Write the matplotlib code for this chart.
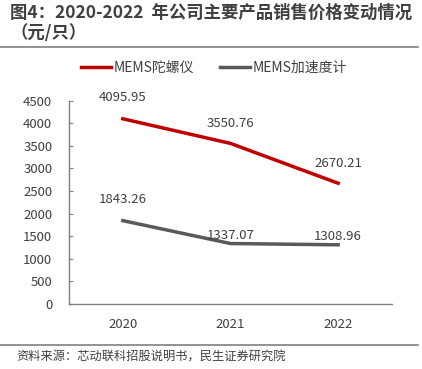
import matplotlib
matplotlib.use('Agg')
import matplotlib.pyplot as plt

plt.rcParams['font.family'] = ['Noto Sans CJK SC', 'DejaVu Sans']

# data
years = ['2020', '2021', '2022']
gyro = [4095.95, 3550.76, 2670.21]
accel = [1843.26, 1337.07, 1308.96]
series_names = ['MEMS陀螺仪', 'MEMS加速度计']
yticks = list(range(0, 4501, 500))

title = '图4：2020-2022  年公司主要产品销售价格变动情况\n（元/只）'
source = '资料来源：芯动联科招股说明书，民生证券研究院'

fig = plt.figure(figsize=(4.22, 3.69), dpi=100)
ax = fig.add_axes([69 / 422, 1 - 304 / 369, 323 / 422, 203.5 / 369])

x = range(len(years))
ax.plot(x, gyro, color='#C00000', lw=2.5, label=series_names[0])
ax.plot(x, accel, color='#595959', lw=2.5, label=series_names[1])

# data labels (pixel offsets above point)
gyro_off = [21, 20, 20]
accel_off = [21, 8, 8]
for xi, v, o in zip(x, gyro, gyro_off):
    ax.annotate(f'{v:.2f}', (xi, v), xytext=(0, o), textcoords='offset pixels',
                ha='center', va='center', fontsize=9.5, color='#404040')
for xi, v, o in zip(x, accel, accel_off):
    ax.annotate(f'{v:.2f}', (xi, v), xytext=(0, o), textcoords='offset pixels',
                ha='center', va='center', fontsize=9.5, color='#404040')

ax.set_xlim(-0.5, 2.5)
ax.set_ylim(0, 4500)
ax.set_xticks(list(x))
ax.set_xticklabels(years)
ax.set_yticks(yticks)
ax.tick_params(axis='x', length=0, pad=10, labelsize=9.5, labelcolor='#404040')
ax.tick_params(axis='y', direction='in', length=3, color='#808080', pad=12,
               labelsize=9.5, labelcolor='#404040')
for s in ['top', 'right']:
    ax.spines[s].set_visible(False)
for s in ['left', 'bottom']:
    ax.spines[s].set_color('#808080')
    ax.spines[s].set_linewidth(1)

fig.legend(loc='center', bbox_to_anchor=(214 / 422, 1 - 68 / 369), ncol=2,
           frameon=False, fontsize=10, handlelength=2.2, handletextpad=0.2,
           columnspacing=1.8, labelcolor='#404040')

fig.text(10 / 422, 1 - 4 / 369, title, ha='left', va='top', fontsize=12.5,
         fontweight='bold', color='#404040', linespacing=1.15)
fig.add_artist(plt.Line2D([0, 418 / 422], [1 - 47 / 369] * 2, color='#808080', lw=1.2))
fig.add_artist(plt.Line2D([0, 418 / 422], [1 - 345 / 369] * 2, color='#808080', lw=1.2))
fig.text(16 / 422, 1 - 357 / 369, source, ha='left', va='center', fontsize=8.8,
         color='#404040')

fig.savefig('out.png', dpi=100)
